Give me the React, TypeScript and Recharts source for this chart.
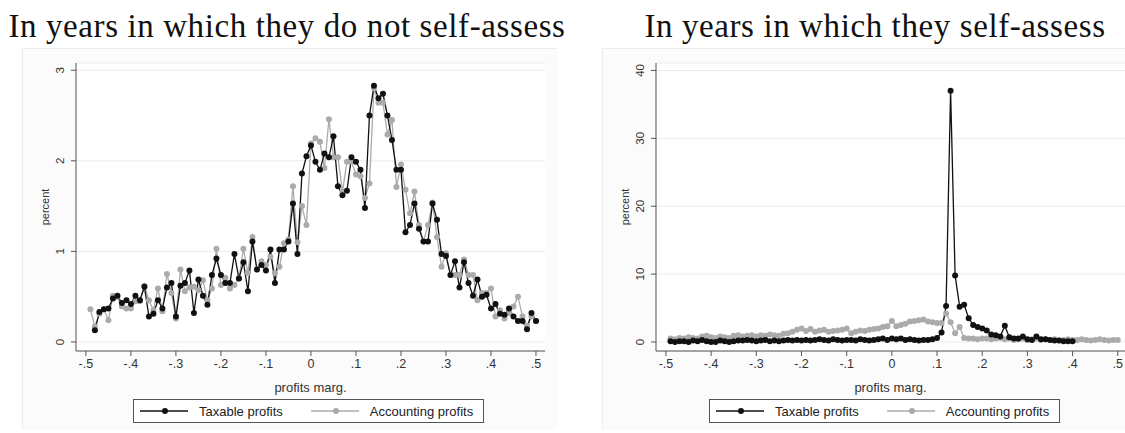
import React from "react";
import { LineChart, Line, XAxis, YAxis, CartesianGrid, Legend } from "recharts";

// profit margin bins, -.49 .. .50
const margins: number[] = Array.from({ length: 100 }, (_, i) => (i - 49) / 100);

const xTicks = [-0.5, -0.4, -0.3, -0.2, -0.1, 0, 0.1, 0.2, 0.3, 0.4, 0.5];
const leftYTicks = [0, 1, 2, 3];
const rightYTicks = [0, 10, 20, 30, 40];

// years in which they do not self-assess
const noSelfTaxable: (number | null)[] = [
  null, 0.13, 0.33, 0.36, 0.37, 0.48, 0.51, 0.43, 0.46, 0.42,
  0.51, 0.46, 0.61, 0.28, 0.31, 0.46, 0.37, 0.6, 0.65, 0.28,
  0.62, 0.65, 0.79, 0.32, 0.69, 0.51, 0.41, 0.74, 0.92, 0.74,
  0.65, 0.65, 0.97, 0.7, 0.88, 0.56, 1.11, 0.8, 0.85, 0.79,
  1.02, 0.65, 1.02, 1.02, 1.11, 1.53, 0.97, 1.86, 2.05, 2.17,
  1.99, 1.9, 2.08, 2.04, 2.27, 1.72, 1.62, 1.67, 2.04, 1.99,
  1.9, 1.48, 2.5, 2.83, 2.69, 2.74, 2.5, 2.23, 1.9, 1.9,
  1.21, 1.29, 1.53, 1.25, 1.11, 1.11, 1.53, 1.35, 0.97, 0.95,
  0.74, 0.89, 0.6, 0.88, 0.65, 0.51, 0.69, 0.5, 0.52, 0.37,
  0.42, 0.31, 0.3, 0.37, 0.28, 0.23, 0.23, 0.14, 0.32, 0.23,
];
const noSelfAccounting: number[] = [
  0.36, 0.17, 0.31, 0.36, 0.24, 0.51, 0.5, 0.39, 0.37, 0.37,
  0.45, 0.45, 0.62, 0.46, 0.35, 0.59, 0.34, 0.75, 0.54, 0.26,
  0.8, 0.56, 0.6, 0.61, 0.57, 0.68, 0.46, 0.59, 1.03, 0.63,
  0.71, 0.59, 0.63, 0.7, 1.03, 0.76, 1.16, 0.8, 0.89, 0.85,
  0.94, 0.76, 0.83, 1.09, 1.13, 1.72, 1.1, 1.5, 1.29, 2.19,
  2.25, 2.21, 1.92, 2.46, 2.04, 2.04, 1.66, 1.99, 1.99, 1.85,
  1.83, 1.59, 1.75, 2.8, 2.64, 2.64, 2.29, 2.45, 1.71, 1.96,
  1.68, 1.42, 1.66, 1.29, 1.11, 1.29, 1.54, 1.16, 0.83, 0.98,
  0.74, 0.74, 0.74, 0.91, 0.74, 0.74, 0.46, 0.54, 0.54, 0.59,
  0.28, 0.35, 0.26, 0.32, 0.39, 0.5, 0.28, 0.18, 0.28, 0.23,
];

// years in which they self-assess
const selfTaxable: (number | null)[] = [
  0.1, 0.0, 0.1, 0.1, 0.0, 0.2, 0.1, 0.3, 0.1, 0.0,
  0.0, 0.2, 0.1, 0.0, 0.1, 0.2, 0.2, 0.3, 0.2, 0.1,
  0.2, 0.3, 0.1, 0.2, 0.1, 0.2, 0.3, 0.2, 0.3, 0.2,
  0.3, 0.2, 0.3, 0.4, 0.3, 0.2, 0.4, 0.3, 0.2, 0.3,
  0.3, 0.2, 0.4, 0.3, 0.2, 0.3, 0.4, 0.5, 0.3, 0.5,
  0.4, 0.5, 0.3, 0.4, 0.3, 0.2, 0.3, 0.3, 0.4, 0.6,
  1.4, 5.3, 37.0, 9.8, 5.2, 5.5, 3.5, 2.5, 2.2, 2.0,
  1.7, 1.1, 1.0, 0.8, 2.4, 0.7, 0.5, 0.5, 0.8, 0.4,
  0.3, 0.8, 0.4, 0.4, 0.3, 0.2, 0.2, 0.1, 0.1, 0.1,
  null, null, null, null, null, null, null, null, null, null,
];
const selfAccounting: number[] = [
  0.5, 0.4, 0.6, 0.5, 0.7, 0.6, 0.5, 0.8, 0.9, 0.7,
  0.6, 0.8, 0.7, 0.6, 0.9, 1.0, 0.8, 0.9, 1.0, 0.8,
  1.0, 0.9, 1.1, 1.0, 0.9, 1.2, 1.3, 1.5, 1.8, 2.0,
  1.6, 1.9, 1.5, 1.7, 1.8, 1.5, 1.6, 1.7, 1.8, 2.0,
  1.3, 1.5, 1.7, 1.6, 1.8, 1.9, 2.0, 2.2, 2.3, 3.1,
  2.3, 2.5, 2.7, 3.0, 3.1, 3.2, 3.3, 3.0, 2.9, 2.8,
  2.8, 4.2, 2.9, 1.3, 2.2, 0.6, 0.5, 0.5, 0.4, 0.5,
  0.5, 0.4, 0.5, 0.6, 0.4, 0.5, 0.3, 0.4, 0.5, 0.3,
  0.4, 0.5, 0.3, 0.4, 0.3, 0.4, 0.2, 0.3, 0.4, 0.3,
  0.3, 0.4, 0.3, 0.2, 0.3, 0.4, 0.3, 0.2, 0.3, 0.3,
];

const BLACK = "#111111";
const GRAY = "#ababab";
const AXIS = "#555555";
const FONT = "'Liberation Sans', Arial, sans-serif";

const fmtX = (v: number) => {
  if (v === 0) return "0";
  const s = Math.abs(v).toFixed(1).replace(/^0/, "");
  return v < 0 ? "-" + s : s;
};

const YTick = (props: any) => {
  const { x, y, payload } = props;
  return (
    <text
      transform={`translate(${x - 7},${y}) rotate(-90)`}
      textAnchor="middle"
      fontSize={11.5}
      fill="#333"
      fontFamily={FONT}
    >
      {payload.value}
    </text>
  );
};

const YLabel = (props: any) => {
  const { viewBox } = props;
  return (
    <text
      transform={`translate(${viewBox.x + 13},${viewBox.y + viewBox.height / 2}) rotate(-90)`}
      textAnchor="middle"
      fontSize={11}
      fill="#333"
      fontFamily={FONT}
    >
      percent
    </text>
  );
};

const XLabel = (props: any) => {
  const { viewBox } = props;
  return (
    <text
      x={viewBox.x + viewBox.width / 2}
      y={viewBox.y + 41}
      textAnchor="middle"
      fontSize={13}
      fill="#333"
      fontFamily={FONT}
    >
      profits marg.
    </text>
  );
};

const legendItems = [
  { name: "Taxable profits", color: BLACK },
  { name: "Accounting profits", color: GRAY },
];

const LegendBox = () => (
  <div
    style={{
      border: "1px solid #555",
      height: 24,
      boxSizing: "border-box",
      display: "flex",
      alignItems: "center",
      paddingLeft: 6,
      gap: 28,
      background: "#fff",
      fontFamily: FONT,
      fontSize: 13,
      color: "#222",
    }}
  >
    {legendItems.map((it) => (
      <div key={it.name} style={{ display: "flex", alignItems: "center" }}>
        <svg width={48} height={10} style={{ marginRight: 11 }}>
          <line x1={0} y1={5} x2={48} y2={5} stroke={it.color} strokeWidth={1.4} />
          <circle cx={25} cy={5} r={3} fill={it.color} />
        </svg>
        <span>{it.name}</span>
      </div>
    ))}
  </div>
);

type PanelProps = {
  left: number;
  width: number;
  marginRight: number;
  taxable: (number | null)[];
  accounting: number[];
  yTicks: number[];
  yDomain: [number, number];
  xMax: number;
  legendLeft: number;
};

const Panel = ({ left, width, marginRight, taxable, accounting, yTicks, yDomain, xMax, legendLeft }: PanelProps) => {
  const data = margins.map((m, i) => ({ m, taxable: taxable[i], accounting: accounting[i] }));
  return (
    <div
      style={{
        position: "absolute",
        left,
        top: 48,
        width,
        height: 382,
        background: "#fbfbfb",
        borderTop: "1px solid #ececec",
        borderLeft: "1px solid #ececec",
        boxSizing: "border-box",
      }}
    >
      <LineChart
        width={width}
        height={382}
        data={data}
        margin={{ top: 15, right: marginRight, bottom: 39, left: 14 }}
        style={{ position: "absolute", left: -1, top: -1 }}
      >
        <CartesianGrid vertical={false} stroke="#ececec" fill="#ffffff" />
        <XAxis
          dataKey="m"
          type="number"
          domain={[-0.522, xMax]}
          allowDataOverflow
          ticks={xTicks}
          tickFormatter={fmtX}
          interval={0}
          height={40}
          tickSize={5}
          tickMargin={3}
          stroke={AXIS}
          tick={{ fill: "#333", fontSize: 12.5, fontFamily: FONT }}
          label={{ content: XLabel }}
        />
        <YAxis
          type="number"
          domain={yDomain}
          allowDataOverflow
          ticks={yTicks}
          interval={0}
          width={40}
          tickSize={5}
          tickMargin={0}
          stroke={AXIS}
          tick={YTick}
          label={{ content: YLabel }}
        />
        <Legend
          layout="horizontal"
          verticalAlign="middle"
          align="center"
          content={LegendBox}
          wrapperStyle={{ left: legendLeft, top: 351, width: 351 }}
        />
        <Line
          dataKey="accounting"
          name="Accounting profits"
          stroke={GRAY}
          strokeWidth={1.3}
          dot={{ r: 3, fill: GRAY, stroke: GRAY, strokeWidth: 0 }}
          isAnimationActive={false}
        />
        <Line
          dataKey="taxable"
          name="Taxable profits"
          stroke={BLACK}
          strokeWidth={1.3}
          dot={{ r: 3, fill: BLACK, stroke: BLACK, strokeWidth: 0 }}
          isAnimationActive={false}
        />
      </LineChart>
    </div>
  );
};

const titleStyle: React.CSSProperties = {
  position: "absolute",
  top: 7,
  fontFamily: "'Liberation Serif', 'Times New Roman', serif",
  fontSize: 33,
  letterSpacing: 0.6,
  color: "#111",
  whiteSpace: "nowrap",
  textAlign: "center",
  lineHeight: "38px",
};

export default function App() {
  return (
    <div style={{ position: "absolute", left: 0, top: 0, width: 1125, height: 433, background: "#fff", overflow: "hidden" }}>
      <div style={{ ...titleStyle, left: 0, width: 574 }}>In years in which they do not self-assess</div>
      <div style={{ ...titleStyle, left: 588, width: 574 }}>In years in which they self-assess</div>
      <Panel
        left={22}
        width={535}
        marginRight={12}
        taxable={noSelfTaxable}
        accounting={noSelfAccounting}
        yTicks={leftYTicks}
        yDomain={[-0.1, 3.08]}
        xMax={0.52}
        legendLeft={111}
      />
      <Panel
        left={602}
        width={523}
        marginRight={0}
        taxable={selfTaxable}
        accounting={selfAccounting}
        yTicks={rightYTicks}
        yDomain={[-1.33, 41.1]}
        xMax={0.516}
        legendLeft={107}
      />
    </div>
  );
}
